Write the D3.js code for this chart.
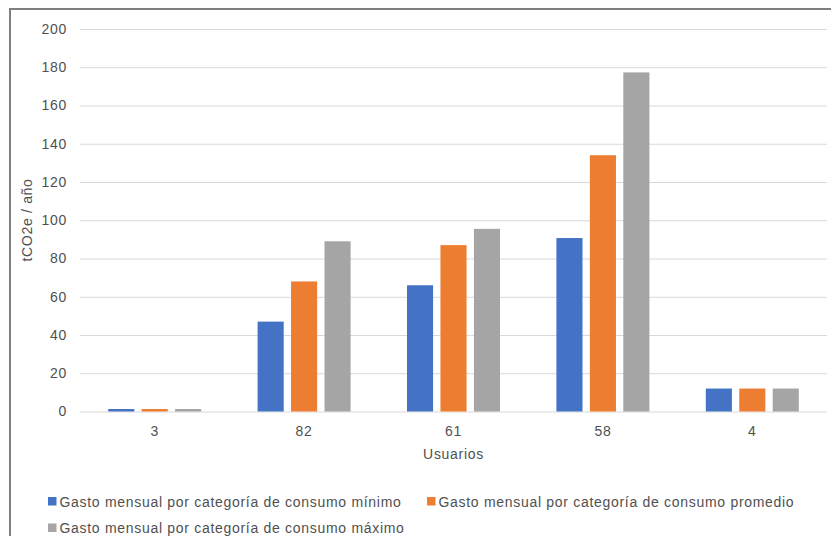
<!DOCTYPE html>
<html>
<head>
<meta charset="utf-8">
<script src="https://cdn.jsdelivr.net/npm/d3@7"></script>
<style>
  html, body { margin: 0; padding: 0; background: #fff; }
  svg { display: block; }
  text { font-family: "Liberation Sans", Arial, sans-serif; }
</style>
</head>
<body>
<svg id="chart" width="831" height="536"></svg>
<script>
// Users per group (category axis)
const categories = ["3", "82", "61", "58", "4"];

// tCO2e per year for each spending category
const minimo   = [1.3, 47, 66, 90.7, 12];
const promedio = [1.3, 68, 87, 134, 12];
const maximo   = [1.3, 89, 95.5, 177.3, 12];

const seriesNames = [
  "Gasto mensual por categoría de consumo mínimo",
  "Gasto mensual por categoría de consumo promedio",
  "Gasto mensual por categoría de consumo máximo"
];
const seriesValues = [minimo, promedio, maximo];
const seriesColors = ["#4472c4", "#ed7d31", "#a5a5a5"];

const yTicks = [0, 20, 40, 60, 80, 100, 120, 140, 160, 180, 200];

const svg = d3.select("#chart");
const textColor = "#505050";
const fontSize = 14;
const spacing = "0.7px";

// Chart frame (extends past the right and bottom edges)
svg.append("rect")
  .attr("x", 10).attr("y", 9)
  .attr("width", 900).attr("height", 600)
  .attr("fill", "none")
  .attr("stroke", "#7f7f7f")
  .attr("stroke-width", 2);

const plot = { left: 80, right: 827, top: 29, bottom: 411.5 };

const x = d3.scaleBand()
  .domain(categories)
  .range([plot.left, plot.right])
  .padding(0);

const xSub = d3.scaleBand()
  .domain(d3.range(seriesNames.length))
  .range([-46.5, 46.5])
  .paddingInner(0.22)
  .paddingOuter(0);

const y = d3.scaleLinear()
  .domain([0, 200])
  .range([plot.bottom, plot.top]);

// Horizontal gridlines and y tick labels
const yAxis = svg.append("g")
  .attr("transform", `translate(${plot.left},0)`)
  .call(d3.axisLeft(y)
    .tickValues(yTicks)
    .tickSize(-(plot.right - plot.left))
    .tickPadding(13)
    .tickFormat(d3.format("d")));
yAxis.select(".domain").remove();
yAxis.selectAll(".tick line")
  .attr("stroke", "#d9d9d9")
  .attr("stroke-width", 1.2);
yAxis.selectAll(".tick text")
  .attr("fill", textColor)
  .attr("font-size", fontSize)
  .style("letter-spacing", spacing)
  .attr("font-family", "Liberation Sans, Arial, sans-serif");

// Bars
const groups = svg.append("g").selectAll("g")
  .data(categories)
  .join("g")
  .attr("transform", d => `translate(${x(d) + x.bandwidth() / 2},0)`);

groups.selectAll("rect")
  .data((d, i) => seriesValues.map((vals, s) => ({ s, v: vals[i] })))
  .join("rect")
  .attr("x", d => xSub(d.s))
  .attr("width", xSub.bandwidth())
  .attr("y", d => y(d.v))
  .attr("height", d => y(0) - y(d.v))
  .attr("fill", d => seriesColors[d.s]);

// Category axis labels
const xAxis = svg.append("g")
  .attr("transform", `translate(0,${plot.bottom})`)
  .call(d3.axisBottom(x).tickSize(0).tickPadding(15));
xAxis.select(".domain").remove();
xAxis.selectAll(".tick text")
  .attr("fill", textColor)
  .attr("font-size", fontSize)
  .style("letter-spacing", spacing)
  .attr("font-family", "Liberation Sans, Arial, sans-serif");

// Axis titles
svg.append("text")
  .attr("x", (plot.left + plot.right) / 2)
  .attr("y", 459)
  .attr("text-anchor", "middle")
  .attr("fill", textColor)
  .attr("font-size", fontSize)
  .style("letter-spacing", spacing)
  .text("Usuarios");

svg.append("text")
  .attr("transform", "translate(32,220) rotate(-90)")
  .attr("text-anchor", "middle")
  .attr("fill", textColor)
  .attr("font-size", fontSize)
  .style("letter-spacing", spacing)
  .text("tCO2e / año");

// Legend
const legendPos = [
  { x: 48, y: 506.5 },
  { x: 427, y: 506.5 },
  { x: 48, y: 533 }
];
const legend = svg.append("g").selectAll("g")
  .data(seriesNames)
  .join("g")
  .attr("transform", (d, i) => `translate(${legendPos[i].x},${legendPos[i].y})`);
legend.append("rect")
  .attr("x", 0).attr("y", -9.5)
  .attr("width", 8.5).attr("height", 8.5)
  .attr("fill", (d, i) => seriesColors[i]);
legend.append("text")
  .attr("x", 11.5)
  .attr("y", 0)
  .attr("fill", textColor)
  .attr("font-size", fontSize)
  .style("letter-spacing", spacing)
  .text(d => d);
</script>
</body>
</html>
